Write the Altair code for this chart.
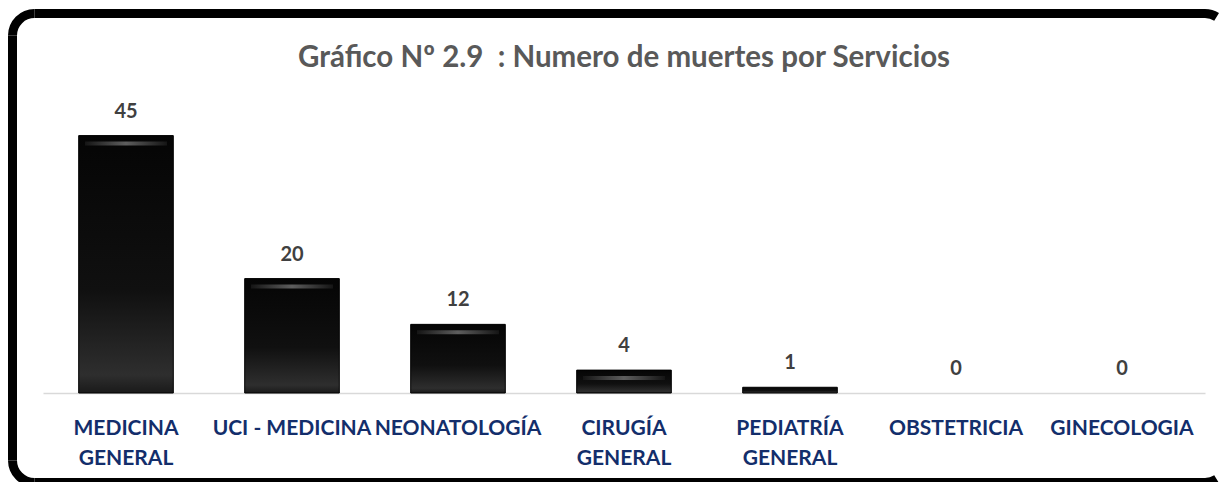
import math
import altair as alt
import pandas as pd

categories = ["MEDICINA GENERAL", "UCI - MEDICINA", "NEONATOLOGÍA", "CIRUGÍA GENERAL",
              "PEDIATRÍA GENERAL", "OBSTETRICIA", "GINECOLOGIA"]
values = [45, 20, 12, 4, 1, 0, 0]
title_text = "Gráfico Nº 2.9\u00a0 : Numero de muertes por Servicios"

df = pd.DataFrame({"servicio": categories, "muertes": values})

FONT = "Lato"
W, H = 1211, 474          # whole drawing (page margin 8px)
X0, X1 = 35, 1197         # band range of the categories
Y_BASE, Y_TOP = 385, 99   # pixel range of the value axis

x = alt.X("servicio:N", sort=categories,
          scale=alt.Scale(range=[X0, X1], paddingInner=0.43, paddingOuter=0.215),
          axis=alt.Axis(title=None, labelAngle=0, ticks=False, domainColor="#d9d9d9",
                        domainWidth=1.5, labelFont=FONT, labelFontWeight="bold",
                        labelFontSize=21, labelColor="#132e6b", labelPadding=24,
                        labelLineHeight=30, labelBaseline="top", labelOverlap=False,
                        labelLimit=300, offset=-(H - Y_BASE),
                        labelExpr="indexof(datum.label, ' GENERAL') > 0 ? split(datum.label, ' ') : datum.label"))
y = alt.Y("muertes:Q", scale=alt.Scale(domain=[0, 50], nice=False, range=[Y_BASE, Y_TOP]),
          axis=None)

bar_grad = alt.Gradient(gradient="linear", x1=0, x2=0, y1=0, y2=1,
                        stops=[alt.GradientStop(color="#050505", offset=0),
                               alt.GradientStop(color="#101010", offset=0.6),
                               alt.GradientStop(color="#2e2e2e", offset=0.93),
                               alt.GradientStop(color="#1a1a1a", offset=1)])

base = alt.Chart(df)
bars = base.transform_filter("datum.muertes > 0").mark_bar(
    color=bar_grad, stroke="#000000", strokeWidth=1).encode(x=x, y=y)

bevel_grad = alt.Gradient(gradient="linear", x1=0, x2=1, y1=0, y2=0,
                          stops=[alt.GradientStop(color="#151515", offset=0),
                                 alt.GradientStop(color="#5e5e5e", offset=0.5),
                                 alt.GradientStop(color="#151515", offset=1)])
bevel = base.transform_filter("datum.muertes >= 4").mark_tick(
    color=bevel_grad, thickness=4, size=82, yOffset=8, opacity=1
).encode(x=x, y=y)

labels = base.mark_text(font=FONT, fontWeight="bold", fontSize=20, color="#404040",
                        dy=-24, baseline="middle").encode(x=x, y=y, text="muertes:Q")

one = pd.DataFrame({"k": [0]})
title = alt.Chart(one).mark_text(font=FONT, fontWeight="bold", fontSize=29.5, color="#595959",
                                 baseline="middle", align="center").encode(
    x=alt.value((X0 + X1) / 2), y=alt.value(50), text=alt.value(title_text))

# ---- decorative rounded frame (kept inside the drawing width) ----
SW = 9
L, T, B = 4.5, 5.5, 474.5
R = 22
CXL, CXR = L + R, 1197
CYT, CYB = T + R, B - R
RO, RI = R + SW / 2, R - SW / 2
cut = math.asin(min(1.0, (W - CXR) / RO))

def rule(**enc):
    return alt.Chart(one).mark_rule(color="#000000", strokeWidth=SW).encode(
        **{k: alt.value(v) for k, v in enc.items()})

def corner(cx, cy, t1, t2):
    return alt.Chart(one).mark_arc(color="#000000").encode(
        x=alt.value(cx), y=alt.value(cy), radius=alt.value(RO), radius2=alt.value(RI),
        theta=alt.value(t1), theta2=alt.value(t2))

frame = [
    rule(x=L, y=CYT, y2=CYB),
    rule(x=CXL, x2=CXR, y=T),
    rule(x=CXL, x2=CXR, y=B),
    corner(CXL, CYT, 1.5 * math.pi, 2 * math.pi),
    corner(CXL, CYB, math.pi, 1.5 * math.pi),
    corner(CXR, CYT, 0, cut),
    corner(CXR, CYB, math.pi - cut, math.pi),
]

chart = alt.layer(*frame, bars, bevel, labels, title).properties(
    width=W, height=H,
    autosize=alt.AutoSizeParams(type="none"),
    padding=0,
    background="white",
).configure_view(stroke=None)

chart.save("out.html", embed_options={"renderer": "svg", "actions": False})
